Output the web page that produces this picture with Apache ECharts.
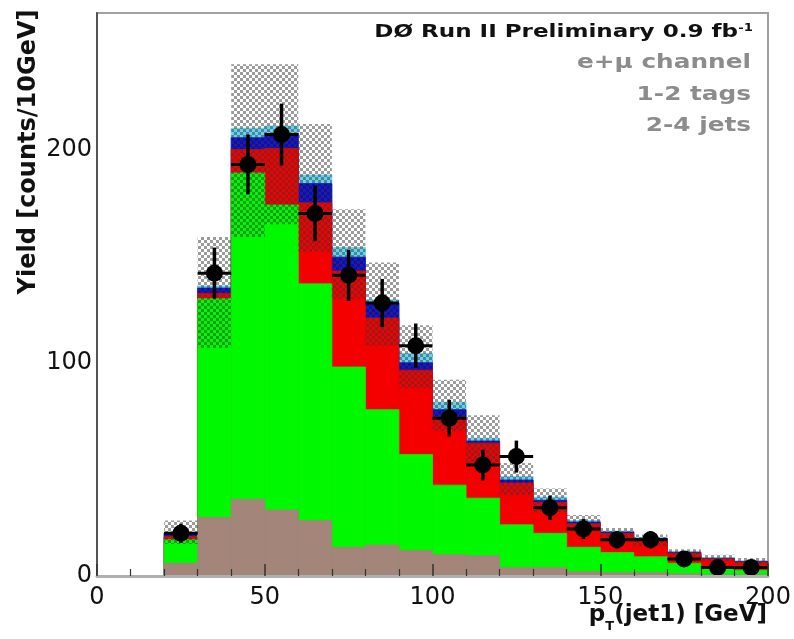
<!DOCTYPE html>
<html><head><meta charset="utf-8">
<script src="https://cdn.jsdelivr.net/npm/echarts/dist/echarts.min.js"></script>
<style>html,body{margin:0;padding:0;background:#fff}#c{width:794px;height:639px}</style>
</head><body><div id="c"></div>
<script>
// ---- data ----
const binLow = [20,30,40,50,60,70,80,90,100,110,120,130,140,150,160,170,180,190];
const binWidth = 10;
const brown = [6, 27.5, 36, 31, 26, 13.5, 14.5, 12, 10, 9.5, 4, 4, 2, 1.5, 1.5, 1, 0.5, 0.5];
const green = [11, 102.5, 153, 143, 111, 84.5, 63.5, 45, 32.6, 27, 20, 16, 11.5, 9.5, 7.5, 5, 3, 2.2];
const red   = [1.5, 2.5, 11, 26.5, 38, 45, 43, 39.5, 31.9, 25.8, 19.6, 14.5, 11, 9, 8, 4.7, 4.5, 3.8];
const blue  = [1.5, 2.5, 5.5, 7, 9, 6.5, 7, 3.5, 3.5, 1, 1.4, 1, 0.8, 0.6, 0.5, 0.4, 0.3, 0.3];
const cyan  = [0.5, 1, 4.5, 3.5, 4, 4.5, 1.5, 4.4, 3.5, 1.3, 1.6, 1.5, 0.7, 0.4, 0.5, 0.4, 0.3, 0.3];
const bandUpper = [26, 159, 240, 240, 212, 172, 147, 117.6, 92, 75.4, 53, 41, 28.6, 22.5, 19.5, 12.5, 10, 8.4];
const bandLower = [15, 107, 159, 165, 152, 130, 108, 88, 68, 53, 38, 30, 21, 17, 14, 9, 7, 5.5];
const dataCounts = [20, 142, 193, 207, 170, 141, 128, 108, 74, 52, 56, 32, 22, 17, 17, 8, 4, 4];
const dataErr    = [4.5, 12, 14, 14.5, 13, 12, 11.3, 10.4, 8.6, 7.2, 7.5, 5.7, 4.7, 4.1, 4.1, 2.8, 2, 2];
const xTicks = [0, 50, 100, 150, 200];
const yTicks = [0, 100, 200];
const infoLines = ['e+\u03bc channel', '1-2 tags', '2-4 jets'];

// ---- build ----
const chart = echarts.init(document.getElementById('c'), null, {renderer: 'canvas'});

const layers = [
  {name: 'bkg1', vals: brown, color: '#a3857a'},
  {name: 'bkg2', vals: green, color: '#00f800'},
  {name: 'bkg3', vals: red,   color: '#f40000'},
  {name: 'bkg4', vals: blue,  color: '#0a0ac8'},
  {name: 'bkg5', vals: cyan,  color: '#62d4f0'}
];
const cum = [];
let run = binLow.map(() => 0);
layers.forEach(l => { run = run.map((v, i) => v + l.vals[i]); cum.push(run.slice()); });

function rectItem(api, x0, x1, y0, y1) {
  const p0 = api.coord([x0, y0]);
  const p1 = api.coord([x1, y1]);
  return {x: p0[0], y: p1[1], width: p1[0] - p0[0], height: p0[1] - p1[1]};
}

const series = [];
for (let k = layers.length - 1; k >= 0; k--) {
  const color = layers[k].color;
  series.push({
    type: 'custom', name: layers[k].name, z: 2 + (layers.length - k),
    data: binLow.map((lo, i) => [lo, lo + binWidth, cum[k][i]]),
    encode: {x: [0, 1], y: 2},
    renderItem: function (params, api) {
      return {type: 'rect', shape: rectItem(api, api.value(0), api.value(1), 0, api.value(2)),
        style: {fill: color, stroke: color, lineWidth: 0.8}};
    }
  });
}

const pc = document.createElement('canvas');
pc.width = 6; pc.height = 6;
const g = pc.getContext('2d');
g.fillStyle = 'rgba(55,55,55,0.5)';
g.fillRect(0, 0, 3, 3); g.fillRect(3, 3, 3, 3);

series.push({
  type: 'custom', name: 'syst', z: 9,
  data: binLow.map((lo, i) => [lo, lo + binWidth, bandLower[i], bandUpper[i]]),
  encode: {x: [0, 1], y: [2, 3]},
  renderItem: function (params, api) {
    return {type: 'rect', shape: rectItem(api, api.value(0), api.value(1), api.value(2), api.value(3)),
      style: {fill: {image: pc, repeat: 'repeat'}}};
  }
});

series.push({
  type: 'custom', name: 'data', z: 12,
  data: binLow.map((lo, i) => [lo + binWidth / 2, dataCounts[i], dataErr[i]]),
  encode: {x: 0, y: 1},
  renderItem: function (params, api) {
    const x = api.value(0), y = api.value(1), e = api.value(2);
    const c = api.coord([x, y]);
    const t = api.coord([x, y + e]);
    const b = api.coord([x, Math.max(0, y - e)]);
    const l = api.coord([x - binWidth / 2, y]);
    const r = api.coord([x + binWidth / 2, y]);
    return {type: 'group', children: [
      {type: 'line', shape: {x1: c[0], y1: t[1], x2: c[0], y2: b[1]}, style: {stroke: '#000', lineWidth: 3.5}},
      {type: 'line', shape: {x1: l[0], y1: c[1], x2: r[0], y2: c[1]}, style: {stroke: '#000', lineWidth: 3}},
      {type: 'circle', shape: {cx: c[0], cy: c[1], r: 8.5}, style: {fill: '#000'}}
    ]};
  }
});

const FONT = 'DejaVu Sans';
const graphics = [
  {type: 'text', x: 29, y: 152, rotation: Math.PI / 2, z: 50,
   style: {text: 'Yield [counts/10GeV]', font: 'bold 24px "DejaVu Sans"', fill: '#111', align: 'center', verticalAlign: 'middle'}},
  {type: 'text', x: 767, y: 615, z: 50,
   style: {text: '{a|p}{s|T}{a|(jet1) [GeV]}', align: 'right', verticalAlign: 'middle',
     rich: {a: {fontFamily: FONT, fontWeight: 'bold', fontSize: 23, fill: '#111', color: '#111', lineHeight: 30, verticalAlign: 'middle'},
            s: {fontFamily: FONT, fontWeight: 'bold', fontSize: 13, fill: '#111', color: '#111', lineHeight: 36, verticalAlign: 'bottom'}}}},
  {type: 'text', x: 738, y: 32, scaleX: 1.28, z: 50,
   style: {text: 'D\u00d8 Run II Preliminary 0.9 fb', font: 'bold 18px "DejaVu Sans"', fill: '#111', align: 'right', verticalAlign: 'middle'}},
  {type: 'text', x: 753, y: 28, scaleX: 1.2, z: 50,
   style: {text: '-1', font: 'bold 11px "DejaVu Sans"', fill: '#111', align: 'right', verticalAlign: 'middle'}}
];
const baselines = [70, 101.5, 132.5];
infoLines.forEach((t, i) => graphics.push({type: 'text', x: 751, y: baselines[i] - 7, scaleX: 1.27, z: 50,
  style: {text: t, font: 'bold 19.5px "DejaVu Sans"', fill: '#8c8c8c', align: 'right', verticalAlign: 'middle'}}));

chart.setOption({
  animation: false,
  backgroundColor: '#fff',
  grid: {left: 97, right: 26, top: 13, bottom: 63, show: true, borderColor: '#a0a0a0', borderWidth: 2, backgroundColor: 'transparent'},
  xAxis: {
    type: 'value', min: xTicks[0], max: xTicks[xTicks.length - 1], interval: 50, z: 20,
    axisLine: {show: true, lineStyle: {color: '#b0b0b0', width: 3}},
    axisTick: {show: true, inside: true, length: 12, lineStyle: {color: '#333', width: 1.5}},
    minorTick: {show: true, splitNumber: 5, length: 7, lineStyle: {color: '#333', width: 1.2}},
    splitLine: {show: false},
    axisLabel: {fontFamily: FONT, fontSize: 24, color: '#111', margin: 10,
      formatter: v => xTicks.indexOf(v) >= 0 ? String(v) : ''}
  },
  yAxis: {
    type: 'value', min: 0, max: 264, interval: 100, z: 20,
    axisLine: {show: true, lineStyle: {color: '#555', width: 2}},
    axisTick: {show: false},
    minorTick: {show: false},
    splitLine: {show: false},
    axisLabel: {fontFamily: FONT, fontSize: 24, color: '#111', margin: 5, showMaxLabel: false,
      formatter: v => yTicks.indexOf(v) >= 0 ? String(v) : ''}
  },
  series: series,
  graphic: graphics
});
</script>
</body></html>
